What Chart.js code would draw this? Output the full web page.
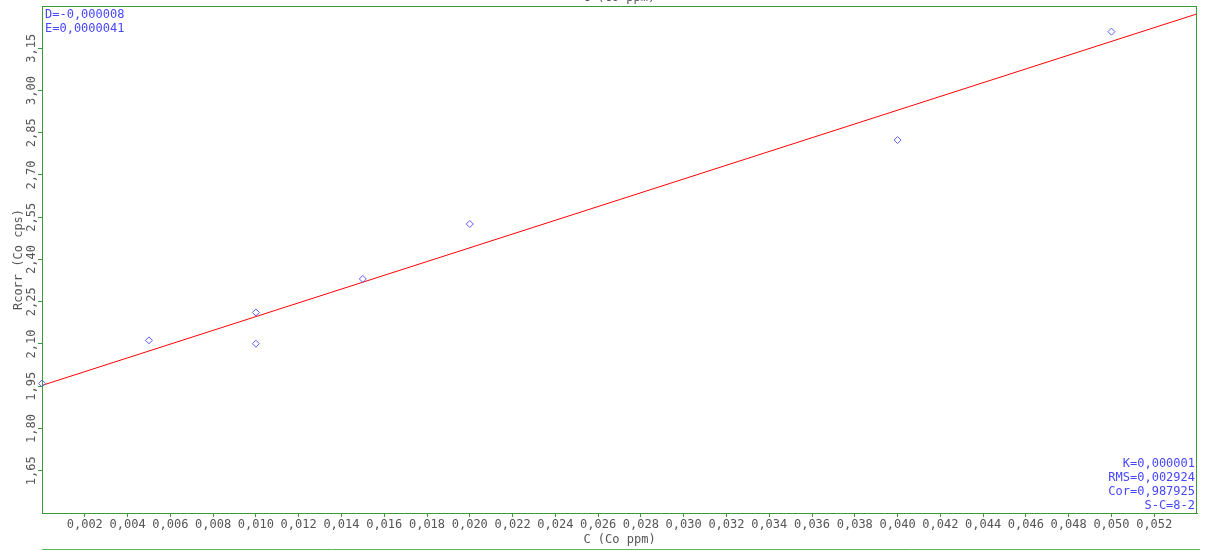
<!DOCTYPE html>
<html>
<head>
<meta charset="utf-8">
<title>Rcorr (Co cps) vs C (Co ppm)</title>
<script src="https://cdn.jsdelivr.net/npm/chart.js@4/dist/chart.umd.min.js"></script>
<style>
  html, body { margin: 0; padding: 0; background: #ffffff; }
  canvas { display: block; }
</style>
</head>
<body>
<canvas id="calChart" width="1208" height="551"></canvas>
<script>
// Kalibrierungspunkte (C in ppm, Rcorr in cps)
const concPpm = [0, 0.005, 0.010, 0.010, 0.015, 0.020, 0.040, 0.050];
const rcorrCps = [1.960, 2.113, 2.212, 2.101, 2.331, 2.526, 2.824, 3.209];

// Regressionsgerade, Endpunkte am Rand des Plotbereichs
const fitConc = [0, 0.054];
const fitRcorr = [1.953, 3.272];

// Achsenbeschriftungen
const xTickValues = [0.002, 0.004, 0.006, 0.008, 0.010, 0.012, 0.014, 0.016, 0.018, 0.020,
  0.022, 0.024, 0.026, 0.028, 0.030, 0.032, 0.034, 0.036, 0.038, 0.040,
  0.042, 0.044, 0.046, 0.048, 0.050, 0.052];
const yTickValues = [1.65, 1.80, 1.95, 2.10, 2.25, 2.40, 2.55, 2.70, 2.85, 3.00, 3.15];

const topNotes = ['D=-0,000008', 'E=0,0000041'];
const bottomNotes = ['K=0,000001', 'RMS=0,002924', 'Cor=0,987925', 'S-C=8-2'];

const FONT = 'DejaVu Sans Mono';
const GREEN = '#3a9a3a';
const GREY = '#555555';
const BLUE = '#4646ff';

const fmt = (v, d) => v.toFixed(d).replace('.', ',');

// Rahmen, Titel oben und Zusatztexte
const framePlugin = {
  id: 'framePlugin',
  afterDraw(chart) {
    const { ctx, chartArea: a } = chart;
    ctx.save();
    ctx.strokeStyle = GREEN;
    ctx.lineWidth = 1;
    ctx.strokeRect(a.left + 0.5, a.top + 0.5, a.right - a.left - 1, a.bottom - a.top);
    ctx.strokeStyle = '#5cb85c';
    ctx.beginPath();
    ctx.moveTo(a.left, 549.5);
    ctx.lineTo(1200, 549.5);
    ctx.stroke();

    ctx.font = '12px "' + FONT + '"';
    ctx.fillStyle = GREY;
    ctx.textAlign = 'center';
    ctx.textBaseline = 'alphabetic';
    ctx.fillText('C (Co ppm)', 619, 1);

    ctx.fillStyle = BLUE;
    ctx.textAlign = 'left';
    topNotes.forEach((t, i) => ctx.fillText(t, a.left + 3, 18 + i * 14));
    ctx.textAlign = 'right';
    bottomNotes.forEach((t, i) => ctx.fillText(t, a.right - 2, 467 + i * 14));
    ctx.restore();
  }
};

new Chart(document.getElementById('calChart'), {
  data: {
    datasets: [{
      type: 'scatter',
      label: 'Standards',
      data: concPpm.map((c, i) => ({ x: c, y: rcorrCps[i] })),
      pointStyle: 'rectRot',
      pointRadius: 3.5,
      pointBackgroundColor: 'rgba(0,0,0,0)',
      pointBorderColor: '#5a5aff',
      pointBorderWidth: 1,
      clip: false,
      order: 1
    }, {
      type: 'line',
      label: 'Fit',
      data: fitConc.map((c, i) => ({ x: c, y: fitRcorr[i] })),
      borderColor: '#ff0000',
      borderWidth: 1,
      pointRadius: 0,
      fill: false,
      order: 2
    }]
  },
  options: {
    responsive: false,
    animation: false,
    devicePixelRatio: 1,
    layout: { padding: { left: 0, top: 6, right: 11, bottom: 0 } },
    plugins: {
      legend: { display: false },
      tooltip: { enabled: false }
    },
    scales: {
      x: {
        type: 'linear',
        min: 0,
        max: 0.054,
        afterBuildTicks: s => { s.ticks = xTickValues.map(v => ({ value: v })); },
        afterFit: s => { s.height = 38; },
        grid: { drawOnChartArea: false, drawTicks: true, tickLength: 4, color: GREEN, tickColor: GREEN },
        border: { display: true, color: GREEN },
        ticks: {
          autoSkip: false,
          maxRotation: 0,
          padding: 1,
          color: GREY,
          font: { family: FONT, size: 12 },
          callback: v => fmt(v, 3)
        },
        title: {
          display: true,
          text: 'C (Co ppm)',
          color: GREY,
          font: { family: FONT, size: 12 },
          padding: { top: 0, bottom: 4 }
        }
      },
      y: {
        type: 'linear',
        min: 1.50,
        max: 3.30,
        afterBuildTicks: s => { s.ticks = yTickValues.map(v => ({ value: v })); },
        afterFit: s => { s.width = 42; },
        grid: { drawOnChartArea: false, drawTicks: true, tickLength: 4, color: GREEN, tickColor: GREEN },
        border: { display: true, color: GREEN },
        ticks: {
          autoSkip: false,
          minRotation: 90,
          maxRotation: 90,
          crossAlign: 'center',
          padding: -8,
          color: GREY,
          font: { family: FONT, size: 12 },
          callback: v => fmt(v, 2)
        },
        title: {
          display: true,
          text: 'Rcorr (Co cps)',
          color: GREY,
          font: { family: FONT, size: 12 },
          padding: { top: 12, bottom: 0 }
        }
      }
    }
  },
  plugins: [framePlugin]
});
</script>
</body>
</html>
